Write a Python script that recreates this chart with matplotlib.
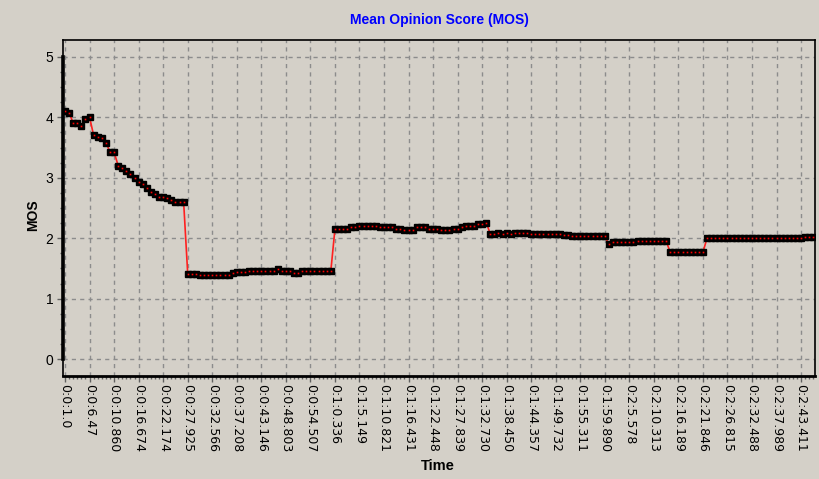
import matplotlib
matplotlib.use('Agg')
import matplotlib.pyplot as plt
import matplotlib.transforms as mtransforms
import numpy as np

## MOS sample values, one per sample
mos = [4.11, 4.08, 3.90, 3.90, 3.86, 3.97, 4.00, 3.70, 3.68, 3.66,
       3.58, 3.43, 3.42, 3.20, 3.16, 3.12, 3.07, 3.00, 2.93, 2.90,
       2.83, 2.76, 2.73, 2.69, 2.69, 2.67, 2.64, 2.60, 2.60, 2.60,
       1.41, 1.41, 1.41, 1.39, 1.39, 1.39, 1.39, 1.39, 1.39, 1.39,
       1.39, 1.42, 1.44, 1.44, 1.44, 1.46, 1.46, 1.46, 1.46, 1.46,
       1.46, 1.46, 1.49, 1.46, 1.46, 1.46, 1.43, 1.43, 1.46, 1.46,
       1.46, 1.46, 1.46, 1.46, 1.46, 1.46, 2.15, 2.15, 2.15, 2.16,
       2.18, 2.18, 2.21, 2.21, 2.21, 2.21, 2.21, 2.18, 2.18, 2.18,
       2.18, 2.15, 2.15, 2.14, 2.14, 2.13, 2.18, 2.18, 2.18, 2.15,
       2.15, 2.15, 2.14, 2.14, 2.14, 2.16, 2.16, 2.18, 2.21, 2.20,
       2.20, 2.23, 2.23, 2.26, 2.07, 2.07, 2.09, 2.07, 2.09, 2.07,
       2.09, 2.09, 2.09, 2.09, 2.07, 2.07, 2.07, 2.07, 2.07, 2.07,
       2.07, 2.07, 2.05, 2.05, 2.03, 2.03, 2.03, 2.03, 2.03, 2.03,
       2.03, 2.03, 2.03, 1.90, 1.93, 1.93, 1.93, 1.93, 1.93, 1.93,
       1.95, 1.95, 1.95, 1.95, 1.95, 1.95, 1.95, 1.95, 1.77, 1.77,
       1.77, 1.77, 1.77, 1.77, 1.77, 1.77, 1.77, 2.00, 2.00, 2.00,
       2.00, 2.00, 2.00, 2.00, 2.00, 2.00, 2.00, 2.00, 2.00, 2.00,
       2.00, 2.00, 2.00, 2.00, 2.00, 2.00, 2.00, 2.00, 2.00, 2.00,
       2.00, 2.02, 2.02, 2.02]

## Time labels shown on the category axis (every 6th sample)
time_labels = ['0:0:1.0', '0:0:6.47', '0:0:10.860', '0:0:16.674', '0:0:22.174',
               '0:0:27.925', '0:0:32.566', '0:0:37.208', '0:0:43.146', '0:0:48.803',
               '0:0:54.507', '0:1:0.336', '0:1:5.149', '0:1:10.821', '0:1:16.431',
               '0:1:22.448', '0:1:27.839', '0:1:32.730', '0:1:38.450', '0:1:44.357',
               '0:1:49.732', '0:1:55.311', '0:1:59.890', '0:2:5.578', '0:2:10.313',
               '0:2:16.189', '0:2:21.846', '0:2:26.815', '0:2:32.488', '0:2:37.989',
               '0:2:43.411']
label_step = 6

bg = '#d4d0c8'
W, H = 819, 479

fig = plt.figure(figsize=(W / 100, H / 100), dpi=100, facecolor=bg)
ax = fig.add_axes([63 / W, 1 - 376 / H, (815 - 63) / W, (376 - 40) / H])
ax.set_facecolor(bg)

x = np.arange(len(mos))
ax.plot(x, mos, color='#ff2020', lw=1.2, zorder=3)
ax.plot(x, mos, linestyle='', marker='s', ms=3.8, mfc='black', mec='black', zorder=4)
ax.plot(x, mos, linestyle='', marker='s', ms=1.2, mfc='red', mec='red', mew=0, zorder=5)

ax.set_xlim(-0.5, len(mos) - 0.6)
ax.set_ylim(-0.28, 5.28)

## Ticks and grid
major_x = np.arange(0, len(mos), label_step)[:len(time_labels)]
ax.set_xticks(major_x)
ax.set_xticklabels(time_labels, rotation=-90, fontsize=9, family='DejaVu Sans')
ax.set_xticks(x, minor=True)
ax.set_yticks(range(6))
ax.set_yticklabels([str(v) for v in range(6)], fontsize=10, family='Liberation Sans')
ax.set_yticks(np.arange(0, 5.01, 0.25), minor=True)
ax.tick_params(axis='x', which='major', length=4, width=1, color='#606060', pad=2)
ax.tick_params(axis='x', which='minor', length=2, width=1, color='#606060')
ax.tick_params(axis='y', which='major', length=4, width=1, color='#606060', pad=3)
ax.tick_params(axis='y', which='minor', length=2, width=1, color='#606060')
ax.grid(True, which='major', color='#8c8c8c', linestyle=(0, (3, 3)), lw=1)

for side in ['top', 'right', 'left']:
    ax.spines[side].set_linewidth(1.2)
ax.spines['bottom'].set_linewidth(2)

## Thick axis bar over the value range 0..5
trans = mtransforms.blended_transform_factory(ax.transAxes, ax.transData)
ax.plot([0, 0], [0, 5], color='black', lw=2.6, transform=trans, clip_on=False, zorder=6)

fig.text(439 / W, 1 - 20 / H, 'Mean Opinion Score (MOS)', color='#0000ff', ha='center',
         va='center', fontsize=10, fontweight='bold', family='Liberation Sans')
fig.text(33 / W, 1 - 215 / H, 'MOS', rotation=90, ha='center', va='center',
         fontsize=10, fontweight='bold', family='Liberation Sans')
fig.text(438 / W, 1 - 466 / H, 'Time', ha='center', va='center',
         fontsize=10.5, fontweight='bold', family='Liberation Sans')

fig.savefig('out.png', dpi=100, facecolor=bg)
